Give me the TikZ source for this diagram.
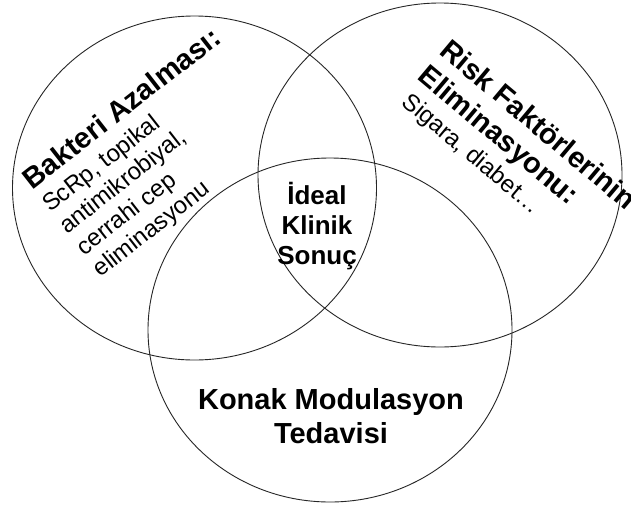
\documentclass[tikz,border=0pt]{standalone}
\usepackage{fontspec}
\setmainfont{Liberation Sans}
\begin{document}
\begin{tikzpicture}[x=1pt,y=-1pt,
  ring/.style={draw=black!85, line width=0.9pt},
  titletxt/.style={inner sep=0pt, align=left, font=\fontsize{29}{33}\selectfont\bfseries},
  bodytxt/.style={inner sep=0pt, align=left, font=\fontsize{24}{27.5}\selectfont},
  midtxt/.style={inner sep=0pt, align=center, font=\fontsize{26}{30}\selectfont\bfseries},
  bigtxt/.style={inner sep=0pt, align=center, font=\fontsize{29}{34}\selectfont\bfseries}]
\useasboundingbox (0,0) rectangle (631,506);
\fill[white] (0,0) rectangle (631,506);
\begin{scope}
\clip (0,0) rectangle (631,506);
\draw[ring] (194.5,188) ellipse [x radius=182, y radius=172];
\draw[ring] (440,175) ellipse [x radius=182, y radius=172];
\draw[ring] (330,330) ellipse [x radius=182, y radius=172];
\node[titletxt, rotate=38, anchor=north west] (lt) at (19,173.5) {Bakteri Azalması:};
\node[bodytxt, rotate=38, anchor=north west] (lb) at (39.2,199.2) {ScRp, topikal\\antimikrobiyal,\\cerrahi cep\\eliminasyonu};
\node[titletxt, rotate=-40, anchor=north west] (rt) at (451.5,37) {Risk Faktörlerinin\\Eliminasyonu:};
\node[bodytxt, rotate=-40, anchor=north west] (rb) at (412,90.6) {Sigara, diabet…};
\node[midtxt] (mid) at (317,226) {İdeal\\Klinik\\Sonuç};
\node[bigtxt] (bot) at (331,416) {Konak Modulasyon\\Tedavisi};
\end{scope}
\end{tikzpicture}
\end{document}
